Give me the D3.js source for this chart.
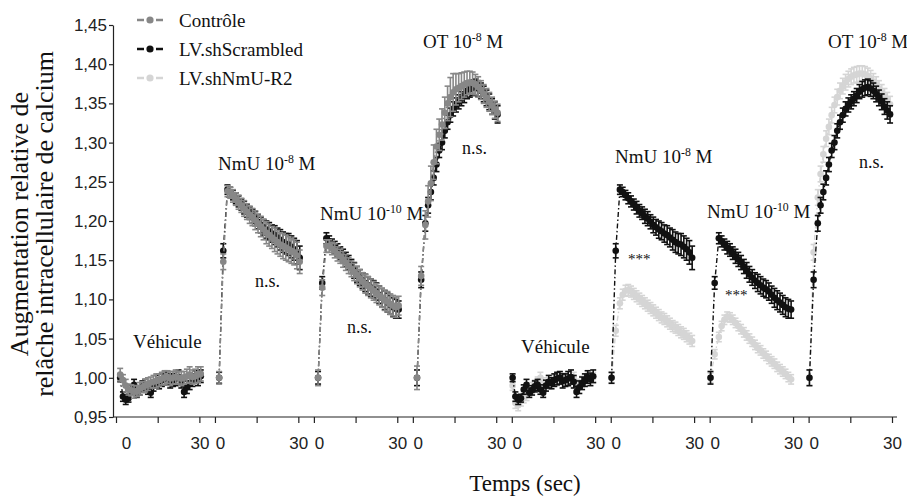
<!DOCTYPE html>
<html><head><meta charset="utf-8">
<script src="https://cdn.jsdelivr.net/npm/d3@7"></script>
<style>body{margin:0;background:#fff}svg{display:block}</style>
</head><body>
<svg id="c" width="907" height="500"></svg>
<script>
// ---------------- DATA ----------------
const seriesNames = ["Contrôle", "LV.shScrambled", "LV.shNmU-R2"];
const segmentNames = ["Véhicule", "NmU 10-8 M", "NmU 10-10 M", "OT 10-8 M"];
const yTickValues = [0.95, 1.00, 1.05, 1.10, 1.15, 1.20, 1.25, 1.30, 1.35, 1.40, 1.45];
const xTickTimes = [0, 15, 30];
const xTickLabels = ["0", "", "30"];

const timesVehicle = [1,2,3,4,5,6,7,8,9,10,11,12,13,14,15,16,17,18,19,20,21,22,23,24,25,26,27,28,29,30];
const timesDrug = [1,2.5,4,5,6,7,8,9,10,11,12,13,14,15,16,17,18,19,20,21,22,23,24,25,26,27,28,29,30];

// Contrôle
const ctrlVehicle = [1.004,0.997,0.990,0.985,0.984,0.982,0.983,0.986,0.988,0.990,0.992,0.994,0.995,0.996,0.997,0.999,1.000,1.001,0.999,1.000,1.001,1.000,0.999,1.000,1.002,1.004,1.001,1.002,1.004,1.005];
const ctrlVehicleErr = [0.008,0.007,0.008,0.007,0.007,0.008,0.007,0.008,0.007,0.008,0.008,0.007,0.008,0.009,0.008,0.008,0.009,0.008,0.009,0.008,0.009,0.008,0.009,0.008,0.009,0.010,0.009,0.009,0.010,0.009];
const ctrlNmU8 = [1.000,1.148,1.238,1.236,1.232,1.228,1.224,1.220,1.216,1.212,1.208,1.205,1.201,1.197,1.193,1.189,1.185,1.182,1.179,1.176,1.173,1.170,1.168,1.166,1.164,1.162,1.160,1.156,1.148];
const ctrlNmU8Err = [0.008,0.010,0.007,0.007,0.008,0.008,0.009,0.009,0.010,0.010,0.011,0.011,0.012,0.012,0.013,0.013,0.014,0.014,0.014,0.015,0.015,0.015,0.016,0.016,0.016,0.016,0.016,0.017,0.015];
const ctrlNmU10 = [1.000,1.115,1.168,1.168,1.165,1.162,1.158,1.155,1.151,1.147,1.143,1.139,1.135,1.131,1.127,1.123,1.120,1.117,1.114,1.111,1.108,1.105,1.102,1.099,1.097,1.094,1.092,1.090,1.092];
const ctrlNmU10Err = [0.010,0.010,0.008,0.008,0.008,0.009,0.009,0.009,0.010,0.010,0.010,0.010,0.011,0.011,0.011,0.011,0.012,0.012,0.012,0.012,0.012,0.012,0.012,0.013,0.013,0.013,0.013,0.013,0.012];
const ctrlOT = [1.000,1.130,1.195,1.225,1.248,1.275,1.295,1.310,1.323,1.338,1.350,1.358,1.364,1.368,1.370,1.372,1.374,1.376,1.377,1.376,1.374,1.371,1.367,1.362,1.357,1.352,1.347,1.342,1.338];
const ctrlOTErr = [0.015,0.012,0.018,0.020,0.022,0.022,0.022,0.020,0.020,0.020,0.022,0.025,0.024,0.020,0.018,0.017,0.016,0.015,0.014,0.014,0.013,0.013,0.012,0.012,0.012,0.012,0.011,0.011,0.011];

// LV.shScrambled
const scrVehicle = [1.000,0.976,0.972,0.974,0.985,0.991,0.981,0.984,0.989,0.991,0.985,0.981,0.990,0.995,0.993,0.997,0.999,1.000,0.996,0.997,0.999,1.001,0.995,0.982,0.988,0.993,0.997,1.001,0.998,1.002];
const scrVehicleErr = [0.005,0.006,0.006,0.005,0.006,0.007,0.006,0.006,0.007,0.007,0.006,0.006,0.007,0.008,0.007,0.008,0.008,0.008,0.009,0.008,0.009,0.009,0.008,0.007,0.008,0.008,0.008,0.008,0.008,0.008];
const scrNmU8 = [1.000,1.162,1.240,1.237,1.233,1.229,1.225,1.221,1.217,1.213,1.210,1.206,1.203,1.199,1.195,1.192,1.189,1.187,1.184,1.182,1.179,1.176,1.173,1.171,1.170,1.167,1.164,1.160,1.153];
const scrNmU8Err = [0.007,0.009,0.006,0.006,0.006,0.007,0.007,0.007,0.008,0.008,0.008,0.009,0.009,0.009,0.010,0.010,0.011,0.011,0.011,0.012,0.012,0.013,0.013,0.013,0.014,0.014,0.014,0.015,0.015];
const scrNmU10 = [1.000,1.121,1.178,1.174,1.170,1.166,1.163,1.159,1.155,1.151,1.147,1.142,1.137,1.132,1.128,1.124,1.121,1.118,1.115,1.113,1.110,1.106,1.102,1.099,1.096,1.093,1.090,1.088,1.087];
const scrNmU10Err = [0.008,0.008,0.007,0.007,0.007,0.008,0.008,0.008,0.009,0.009,0.009,0.009,0.010,0.010,0.010,0.010,0.011,0.011,0.011,0.011,0.011,0.011,0.012,0.012,0.012,0.012,0.012,0.012,0.011];
const scrOT = [1.000,1.125,1.197,1.220,1.237,1.255,1.272,1.290,1.300,1.315,1.326,1.335,1.343,1.348,1.352,1.356,1.360,1.365,1.368,1.370,1.371,1.369,1.366,1.362,1.357,1.352,1.346,1.341,1.336];
const scrOTErr = [0.010,0.010,0.010,0.010,0.010,0.009,0.009,0.009,0.009,0.009,0.009,0.009,0.009,0.009,0.009,0.009,0.009,0.009,0.010,0.010,0.010,0.010,0.010,0.010,0.010,0.010,0.010,0.011,0.011];

// LV.shNmU-R2
const r2Vehicle = [0.990,0.968,0.965,0.970,0.975,0.978,0.983,0.987,0.990,0.995,1.000,0.993,0.990,0.993,0.996,0.998,0.997,0.999,1.000,0.998,0.996,0.998,1.000,0.990,0.992,0.995,0.997,1.000,1.002,1.000];
const r2VehicleErr = [0.006,0.007,0.007,0.006,0.007,0.007,0.006,0.007,0.007,0.006,0.007,0.007,0.006,0.007,0.007,0.006,0.007,0.007,0.006,0.007,0.007,0.006,0.007,0.007,0.006,0.007,0.007,0.006,0.007,0.007];
const r2NmU8 = [1.000,1.060,1.095,1.106,1.111,1.112,1.110,1.107,1.104,1.101,1.098,1.095,1.092,1.089,1.086,1.083,1.080,1.077,1.075,1.072,1.069,1.066,1.064,1.061,1.058,1.056,1.053,1.050,1.047];
const r2NmU8Err = [0.006,0.007,0.007,0.007,0.007,0.007,0.007,0.007,0.007,0.007,0.007,0.007,0.007,0.007,0.007,0.007,0.007,0.007,0.007,0.007,0.007,0.007,0.007,0.007,0.007,0.007,0.007,0.007,0.007];
const r2NmU10 = [1.000,1.030,1.052,1.066,1.074,1.078,1.077,1.074,1.070,1.066,1.062,1.058,1.054,1.050,1.046,1.042,1.038,1.035,1.031,1.028,1.024,1.021,1.018,1.014,1.011,1.008,1.005,1.001,0.998];
const r2NmU10Err = [0.006,0.006,0.006,0.006,0.006,0.006,0.006,0.006,0.006,0.006,0.006,0.006,0.006,0.006,0.006,0.006,0.006,0.006,0.006,0.006,0.006,0.006,0.006,0.006,0.006,0.006,0.006,0.006,0.006];
const r2OT = [1.000,1.160,1.230,1.260,1.285,1.305,1.320,1.335,1.348,1.358,1.366,1.372,1.377,1.381,1.384,1.386,1.387,1.388,1.388,1.387,1.385,1.382,1.378,1.374,1.369,1.364,1.359,1.354,1.349];
const r2OTErr = [0.010,0.010,0.010,0.010,0.010,0.010,0.010,0.010,0.010,0.010,0.010,0.010,0.010,0.010,0.010,0.010,0.010,0.010,0.010,0.010,0.010,0.010,0.010,0.010,0.010,0.010,0.010,0.010,0.010];

// ---------------- LAYOUT ----------------
const serif = "'Liberation Serif','Times New Roman',serif";
const sans = "'Liberation Sans',Arial,sans-serif";
const colors = {ctrl: "#878787", scr: "#111111", r2: "#d5d5d5"};
const table = {
  ctrl: [[ctrlVehicle, ctrlVehicleErr], [ctrlNmU8, ctrlNmU8Err], [ctrlNmU10, ctrlNmU10Err], [ctrlOT, ctrlOTErr]],
  scr:  [[scrVehicle, scrVehicleErr], [scrNmU8, scrNmU8Err], [scrNmU10, scrNmU10Err], [scrOT, scrOTErr]],
  r2:   [[r2Vehicle, r2VehicleErr], [r2NmU8, r2NmU8Err], [r2NmU10, r2NmU10Err], [r2OT, r2OTErr]]
};
const halves = [
  {order: ["scr", "ctrl"], shift: 0.5},
  {order: ["r2", "scr"], shift: -0.7}
];

const PERIOD = 35.6, SPAN = 30;
const x = d3.scaleLinear().domain([0, 7 * PERIOD + SPAN]).range([116, 892]);
const y = d3.scaleLinear().domain([0.95, 1.45]).range([417, 25]);

const svg = d3.select("#c");

// axes
const yAxis = d3.axisLeft(y).tickValues(yTickValues)
  .tickFormat(d => d.toFixed(2).replace(".", ","))
  .tickSize(4).tickSizeOuter(0).tickPadding(2);
const gy = svg.append("g").attr("transform", "translate(113,0)").call(yAxis);
gy.attr("font-family", sans).attr("font-size", 17);
gy.selectAll("text").attr("fill", "#222");
gy.selectAll("line,path").attr("stroke", "#222").attr("stroke-width", 1.2);

const globalTicks = [];
for (let s = 0; s < 8; s++) xTickTimes.forEach(t => globalTicks.push(s * PERIOD + t));
const xAxis = d3.axisBottom(x).tickValues(globalTicks)
  .tickFormat((d, i) => xTickLabels[i % 3]).tickSize(6).tickSizeOuter(0).tickPadding(14);
const gx = svg.append("g").attr("transform", "translate(0,417)").call(xAxis);
gx.attr("font-family", sans).attr("font-size", 17);
gx.select(".domain").remove();
gx.selectAll("line").attr("stroke", "#222").attr("stroke-width", 1.2);
gx.selectAll("text").attr("fill", "#222")
  .attr("dx", (d, i) => xTickLabels[i % 3] === "0" ? (i === 0 ? 10 : 5) : 0);
svg.append("line").attr("x1", 113).attr("x2", 897).attr("y1", 417).attr("y2", 417)
  .attr("stroke", "#222").attr("stroke-width", 1.2);

// series
const line = d3.line().x(d => d.x).y(d => d.y);
const plot = svg.append("g");
halves.forEach((h, hi) => {
  h.order.forEach(key => {
    for (let k = 0; k < 4; k++) {
      const seg = hi * 4 + k;
      const [vals, errs] = table[key][k];
      const times = k === 0 ? timesVehicle : timesDrug;
      const pts = vals.map((v, i) => ({
        x: x(seg * PERIOD + times[i] + h.shift), y: y(v),
        lo: y(v - errs[i]), hi: y(v + errs[i])
      }));
      const c = colors[key];
      const g = plot.append("g");
      g.append("path").attr("d", line(pts)).attr("fill", "none")
        .attr("stroke", c).attr("stroke-width", 1.4).attr("stroke-dasharray", "5,2.5,1.5,2.5");
      const eb = g.selectAll(".eb").data(pts).join("g");
      eb.append("line").attr("x1", d => d.x).attr("x2", d => d.x)
        .attr("y1", d => d.lo).attr("y2", d => d.hi).attr("stroke", c).attr("stroke-width", 1.6);
      eb.append("line").attr("x1", d => d.x - 3).attr("x2", d => d.x + 3)
        .attr("y1", d => d.hi).attr("y2", d => d.hi).attr("stroke", c).attr("stroke-width", 1.6);
      eb.append("line").attr("x1", d => d.x - 3).attr("x2", d => d.x + 3)
        .attr("y1", d => d.lo).attr("y2", d => d.lo).attr("stroke", c).attr("stroke-width", 1.6);
      g.selectAll("circle").data(pts).join("circle")
        .attr("cx", d => d.x).attr("cy", d => d.y).attr("r", 3.3).attr("fill", c);
    }
  });
});

// annotations
function label(xp, yp, parts, size) {
  const t = svg.append("text").attr("x", xp).attr("y", yp)
    .attr("font-family", serif).attr("font-size", size).attr("fill", "#111");
  parts.forEach(p => {
    if (typeof p === "string") t.append("tspan").text(p);
    else {
      t.append("tspan").attr("font-size", size * 0.62).attr("dy", -7).text(p.sup);
      t.append("tspan").attr("dy", 7).text(p.after);
    }
  });
}
label(133, 348, ["Véhicule"], 19);
label(218, 170, ["NmU 10", {sup: "-8", after: " M"}], 19);
label(255, 287, ["n.s."], 18);
label(320, 220, ["NmU 10", {sup: "-10", after: " M"}], 19);
label(347, 333, ["n.s."], 18);
label(423, 48, ["OT 10", {sup: "-8", after: " M"}], 19);
label(462, 154, ["n.s."], 18);
label(521, 353, ["Véhicule"], 19);
label(615, 163, ["NmU 10", {sup: "-8", after: " M"}], 19);
label(628, 264, ["***"], 15);
label(707, 218, ["NmU 10", {sup: "-10", after: " M"}], 19);
label(725, 300, ["***"], 15);
label(828, 48, ["OT 10", {sup: "-8", after: " M"}], 19);
label(859, 168, ["n.s."], 18);

// legend
const legKeys = ["ctrl", "scr", "r2"];
const lg = svg.append("g");
seriesNames.forEach((name, i) => {
  const yy = 20 + i * 29;
  const c = colors[legKeys[i]];
  lg.append("line").attr("x1", 137).attr("x2", 144).attr("y1", yy).attr("y2", yy).attr("stroke", c).attr("stroke-width", 2.5);
  lg.append("line").attr("x1", 156).attr("x2", 163).attr("y1", yy).attr("y2", yy).attr("stroke", c).attr("stroke-width", 2.5);
  lg.append("circle").attr("cx", 150).attr("cy", yy).attr("r", 3.6).attr("fill", c);
  lg.append("text").attr("x", 179).attr("y", yy + 7).attr("font-family", serif)
    .attr("font-size", 19).attr("fill", "#111").text(name);
});

// axis titles
svg.append("text").attr("x", 525).attr("y", 491).attr("text-anchor", "middle")
  .attr("font-family", serif).attr("font-size", 23).attr("fill", "#111").text("Temps (sec)");
const yt = svg.append("text").attr("transform", "translate(0,224) rotate(-90)")
  .attr("text-anchor", "middle").attr("font-family", serif).attr("font-size", 26).attr("fill", "#111");
yt.append("tspan").attr("x", 0).attr("y", 28).text("Augmentation relative de");
yt.append("tspan").attr("x", 0).attr("y", 53).text("relâche intracellulaire de calcium");
</script>
</body></html>
